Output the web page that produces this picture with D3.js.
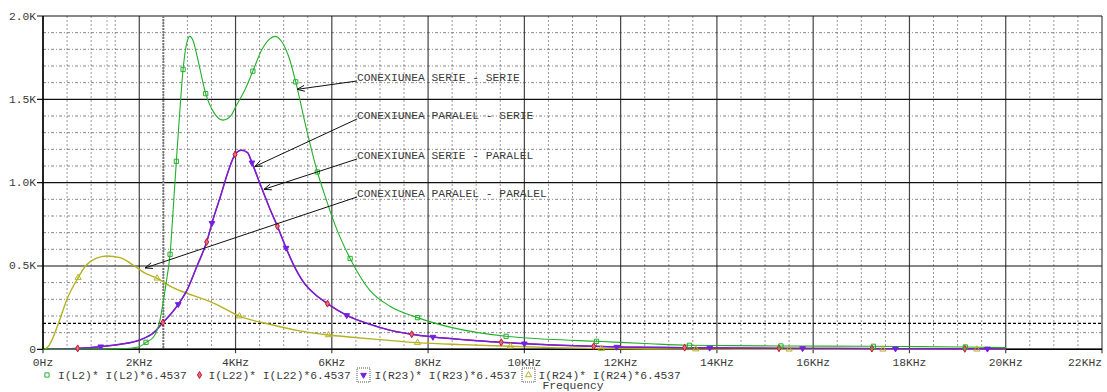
<!DOCTYPE html>
<html>
<head>
<meta charset="utf-8">
<script src="https://cdn.jsdelivr.net/npm/d3@7"></script>
<style>
  body { margin: 0; background: #fff; }
  text { font-family: 'Liberation Mono', 'Courier New', monospace; font-size: 11.3px; fill: #3a3a3a; }
</style>
</head>
<body>
<div id="chart"></div>
<script>
// frequency in KHz, values in K
const greenF = [0, 1.0, 1.5, 1.8, 2.0, 2.14, 2.3, 2.43, 2.5, 2.57, 2.64, 2.7, 2.77, 2.84, 2.91, 2.98, 3.05, 3.12, 3.2, 3.38, 3.55, 3.74, 3.9, 4.01, 4.2, 4.36, 4.55, 4.7, 4.82, 4.95, 5.1, 5.25, 5.45, 5.7, 5.89, 6.03, 6.38, 6.79, 7.2, 7.78, 8.5, 9.62, 10.5, 11.5, 12.5, 13.43, 14.3, 15.33, 16.2, 17.25, 18.2, 19.16, 20]
const greenV = [0, 0, 0.002, 0.006, 0.015, 0.042, 0.075, 0.175, 0.29, 0.42, 0.57, 0.82, 1.128, 1.42, 1.679, 1.83, 1.878, 1.85, 1.76, 1.534, 1.42, 1.375, 1.4, 1.46, 1.56, 1.669, 1.8, 1.86, 1.878, 1.85, 1.76, 1.605, 1.35, 1.064, 0.894, 0.775, 0.545, 0.354, 0.26, 0.19, 0.13, 0.078, 0.06, 0.048, 0.035, 0.024, 0.022, 0.02, 0.019, 0.018, 0.016, 0.014, 0.01]
const greenMarks = [2.14, 2.64, 2.77, 2.91, 3.38, 4.36, 5.25, 5.7, 6.38, 7.78, 9.62, 11.5, 13.43, 15.33, 17.25, 19.16]

const purpleF = [0.1, 0.7, 1.2, 1.6, 2.01, 2.3, 2.49, 2.65, 2.81, 3.0, 3.2, 3.4, 3.53, 3.7, 3.85, 3.99, 4.12, 4.25, 4.34, 4.5, 4.71, 4.87, 5.05, 5.2, 5.41, 5.65, 5.91, 6.31, 6.79, 7.2, 7.66, 8.1, 8.8, 9.52, 10.0, 10.7, 11.44, 11.92, 12.6, 13.33, 14.2, 15.3, 16.5, 17.7, 18.9, 20]
const purpleV = [0, 0.005, 0.016, 0.03, 0.056, 0.1, 0.16, 0.21, 0.27, 0.36, 0.5, 0.644, 0.777, 0.93, 1.07, 1.169, 1.195, 1.18, 1.12, 1.0, 0.845, 0.738, 0.608, 0.51, 0.404, 0.33, 0.274, 0.204, 0.15, 0.115, 0.09, 0.074, 0.056, 0.042, 0.034, 0.025, 0.018, 0.014, 0.012, 0.01, 0.008, 0.006, 0.005, 0.004, 0.003, 0.003]
const purpleMarks = [1.2, 2.81, 3.51, 4.34, 5.05, 6.31, 8.1, 10.0, 11.92, 13.85, 15.78, 17.71, 19.62]

const redF = purpleF
const redV = [0, 0.005, 0.016, 0.03, 0.056, 0.1, 0.16, 0.21, 0.27, 0.36, 0.5, 0.644, 0.777, 0.93, 1.07, 1.169, 1.195, 1.18, 1.12, 1.0, 0.845, 0.738, 0.608, 0.51, 0.404, 0.33, 0.274, 0.204, 0.15, 0.115, 0.09, 0.074, 0.056, 0.042, 0.034, 0.025, 0.018, 0.014, 0.012, 0.01, 0.008, 0.006, 0.005, 0.004, 0.003, 0.003]
const redMarks = [0.72, 2.49, 3.4, 3.99, 4.87, 5.91, 7.66, 9.52, 11.44, 13.33, 15.29, 17.22, 19.15]

const yellowF = [0.05, 0.13, 0.32, 0.49, 0.73, 0.9, 1.1, 1.33, 1.6, 1.9, 2.1, 2.37, 2.7, 3.0, 3.25, 3.6, 4.08, 4.71, 5.3, 5.93, 6.36, 7.0, 7.78, 8.7, 9.71, 10.6, 11.6, 12.6, 13.5, 15.6, 17.5, 20]
const yellowV = [0, 0.025, 0.155, 0.295, 0.43, 0.506, 0.545, 0.56, 0.55, 0.5, 0.46, 0.426, 0.37, 0.335, 0.31, 0.27, 0.199, 0.15, 0.112, 0.086, 0.074, 0.058, 0.04, 0.028, 0.018, 0.01, 0.004, 0.002, 0.001, 0, 0, 0]
const yellowMarks = [0.73, 2.37, 4.08, 5.93, 7.78, 9.71, 11.6, 13.56, 15.5, 17.45, 19.4]

const xTicks = [0, 2, 4, 6, 8, 10, 12, 14, 16, 18, 20, 22]
const xTickLabels = ['0Hz', '2KHz', '4KHz', '6KHz', '8KHz', '10KHz', '12KHz', '14KHz', '16KHz', '18KHz', '20KHz', '22KHz']
const yTicks = [0, 0.5, 1.0, 1.5, 2.0]
const yTickLabels = ['0', '0.5K', '1.0K', '1.5K', '2.0K']

const legendLabels = ['I(L2)* I(L2)*6.4537', 'I(L22)* I(L22)*6.4537', 'I(R23)* I(R23)*6.4537', 'I(R24)* I(R24)*6.4537']
const notes = ['CONEXIUNEA SERIE - SERIE', 'CONEXIUNEA PARALEL - SERIE', 'CONEXIUNEA SERIE - PARALEL', 'CONEXIUNEA PARALEL - PARALEL']
// arrow tips [freq, value]
const noteTargets = [[5.28, 1.56], [4.4, 1.097], [4.59, 0.96], [2.12, 0.488]]
const cursorF = [1.33, 2.5]
const cursorV = 0.156

const width = 1107
const height = 392
const margin = { top: 16, left: 43, right: 5, bottom: 43 }

const svg = d3
  .select('#chart')
  .append('svg')
  .attr('width', width)
  .attr('height', height)

const x = d3.scaleLinear().domain([0, 22]).range([margin.left, width - margin.right])
const y = d3.scaleLinear().domain([0, 2]).range([height - margin.bottom + 0.3, margin.top])

const x0 = x(0), x1 = x(22), y0 = y(0), y1 = y(2)

// minor grid
const grid = svg.append('g')
d3.range(0, 22.01, 0.5).filter(d => d % 2 !== 0).forEach(f => {
  grid.append('line')
    .attr('x1', x(f)).attr('x2', x(f)).attr('y1', y1).attr('y2', y0)
    .attr('stroke', '#999').attr('stroke-width', 1).attr('stroke-dasharray', '2,2')
})
d3.range(0, 2.01, 0.1).forEach(v => {
  if (Math.abs(v * 2 - Math.round(v * 2)) < 0.001) return
  grid.append('line')
    .attr('x1', x0).attr('x2', x1).attr('y1', y(v)).attr('y2', y(v))
    .attr('stroke', '#888').attr('stroke-width', 1).attr('stroke-dasharray', '3,2,1,2')
})

// major grid
xTicks.forEach(f => {
  grid.append('line')
    .attr('x1', x(f)).attr('x2', x(f)).attr('y1', y1).attr('y2', y0 + 4)
    .attr('stroke', '#444').attr('stroke-width', 1.2)
})
yTicks.forEach(v => {
  grid.append('line')
    .attr('x1', x0 - 6).attr('x2', x1).attr('y1', y(v)).attr('y2', y(v))
    .attr('stroke', '#111').attr('stroke-width', 1.2)
})

// cursors
svg.append('line')
  .attr('x1', x(cursorF[0])).attr('x2', x(cursorF[0])).attr('y1', y1).attr('y2', y0)
  .attr('stroke', '#aaa').attr('stroke-width', 1).attr('stroke-dasharray', '2,2')
svg.append('line')
  .attr('x1', x(cursorF[1])).attr('x2', x(cursorF[1])).attr('y1', y1).attr('y2', y0)
  .attr('stroke', '#777').attr('stroke-width', 2).attr('stroke-dasharray', '2,1')
svg.append('line')
  .attr('x1', x0).attr('x2', x1).attr('y1', y(cursorV)).attr('y2', y(cursorV))
  .attr('stroke', '#000').attr('stroke-width', 1.3).attr('stroke-dasharray', '3,2')

// frame
svg.append('line').attr('x1', x0).attr('x2', x0).attr('y1', y1).attr('y2', y0).attr('stroke', '#000').attr('stroke-width', 1.5)
svg.append('line').attr('x1', x0).attr('x2', x1).attr('y1', y0).attr('y2', y0).attr('stroke', '#000').attr('stroke-width', 1.5)

// tick labels
svg.selectAll('.xlab')
  .data(xTicks)
  .enter()
  .append('text')
  .attr('class', 'xlab')
  .attr('x', d => x(d))
  .attr('y', 366)
  .attr('text-anchor', (d, i) => i === xTicks.length - 1 ? 'end' : 'middle')
  .text((d, i) => xTickLabels[i])

svg.selectAll('.ylab')
  .data(yTicks)
  .enter()
  .append('text')
  .attr('class', 'ylab')
  .attr('x', 36)
  .attr('y', d => y(d) + 3.5)
  .attr('text-anchor', 'end')
  .text((d, i) => yTickLabels[i])

const line = d3.line()
  .x(d => x(d[0]))
  .y(d => y(d[1]))
  .curve(d3.curveMonotoneX)

function valueAt(fs, vs, f) {
  const i = Math.max(1, Math.min(fs.length - 1, d3.bisectLeft(fs, f)))
  const t = (f - fs[i - 1]) / (fs[i] - fs[i - 1])
  return vs[i - 1] + t * (vs[i] - vs[i - 1])
}

const series = [
  { f: yellowF, v: yellowV, marks: yellowMarks, color: '#b5b21e', width: 1.4, symbol: d3.symbolTriangle, rot: 0, fill: 'none', size: 16 },
  { f: redF, v: redV, marks: redMarks, color: '#c8102e', width: 1.2, symbol: d3.symbolDiamond, rot: 0, fill: '#e07080', size: 14 },
  { f: purpleF, v: purpleV, marks: purpleMarks, color: '#7420e0', width: 1.5, symbol: d3.symbolTriangle, rot: 180, fill: '#7420e0', size: 14 },
  { f: greenF, v: greenV, marks: greenMarks, color: '#22b02a', width: 1.1, symbol: d3.symbolSquare, rot: 0, fill: 'none', size: 18 }
]

series.forEach(s => {
  svg.append('path')
    .datum(s.f.map((f, i) => [f, s.v[i]]))
    .attr('d', line)
    .attr('fill', 'none')
    .attr('stroke', s.color)
    .attr('stroke-width', s.width)
})
series.forEach(s => {
  svg.selectAll(null)
    .data(s.marks)
    .enter()
    .append('path')
    .attr('d', d3.symbol().type(s.symbol).size(s.size))
    .attr('transform', d => 'translate(' + x(d) + ',' + y(valueAt(s.f, s.v, d)) + ') rotate(' + s.rot + ')')
    .attr('fill', s.fill)
    .attr('stroke', s.color)
    .attr('stroke-width', 1)
})

// annotations
const notesY = [77, 115, 155, 193]
notes.forEach((n, i) => {
  const tx = x(noteTargets[i][0]), ty = y(noteTargets[i][1])
  const sx = 357, sy = notesY[i] + 4
  svg.append('line')
    .attr('x1', sx).attr('y1', sy).attr('x2', tx).attr('y2', ty)
    .attr('stroke', '#111').attr('stroke-width', 1)
  const a = Math.atan2(sy - ty, sx - tx)
  const len = 8, spread = 0.38
  svg.append('path')
    .attr('d', 'M' + (tx + len * Math.cos(a + spread)) + ',' + (ty + len * Math.sin(a + spread)) +
      'L' + tx + ',' + ty +
      'L' + (tx + len * Math.cos(a - spread)) + ',' + (ty + len * Math.sin(a - spread)))
    .attr('fill', 'none')
    .attr('stroke', '#111')
    .attr('stroke-width', 1)
  svg.append('text')
    .attr('x', sx)
    .attr('y', notesY[i] + 4)
    .text(n)
})

// legend
const legY = 375
const legSym = [47, 199.5, 363.5, 528.5]
const legText = [58, 208.5, 374.5, 538.5]
const legOrder = [3, 1, 2, 0]
legOrder.forEach((si, i) => {
  const s = series[si]
  if (i >= 2) {
    svg.append('rect')
      .attr('x', legSym[i] - 6.5).attr('y', legY - 7).attr('width', 13).attr('height', 14)
      .attr('fill', 'none').attr('stroke', '#555').attr('stroke-width', 1).attr('stroke-dasharray', '1,1')
  }
  svg.append('path')
    .attr('d', d3.symbol().type(s.symbol).size(s.size))
    .attr('transform', 'translate(' + legSym[i] + ',' + legY + ') rotate(' + s.rot + ')')
    .attr('fill', s.fill)
    .attr('stroke', s.color)
  svg.append('text')
    .attr('x', legText[i])
    .attr('y', legY + 4)
    .text(legendLabels[i])
})

svg.append('text')
  .attr('x', 573)
  .attr('y', 389)
  .attr('text-anchor', 'middle')
  .text('Frequency')
</script>
</body>
</html>
